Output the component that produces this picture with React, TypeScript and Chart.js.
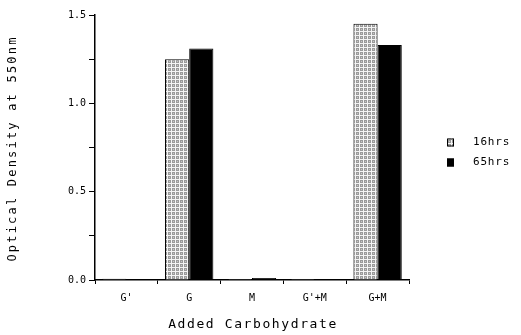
import React, { useEffect, useRef } from 'react';
import { Chart, registerables } from 'chart.js';

Chart.register(...registerables);

const categories = ["G'", "G", "M", "G'+M", "G+M"];
const seriesLabels = ["16hrs", "65hrs"];
const hrs16 = [0.007, 1.25, 0.006, 0.005, 1.45];
const hrs65 = [0.006, 1.31, 0.012, 0.005, 1.33];
const yTickLabels = ["0.0", "0.5", "1.0", "1.5"];
const xTitle = "Added Carbohydrate";
const yTitle = "Optical Density at 550nm";

const MONO = "'DejaVu Sans Mono', monospace";

export default function App() {
  const ref = useRef<HTMLCanvasElement | null>(null);

  useEffect(() => {
    const canvas = ref.current;
    if (!canvas) return;
    const ctx = canvas.getContext('2d')!;

    const pc = document.createElement('canvas');
    pc.width = 4;
    pc.height = 4;
    const p = pc.getContext('2d')!;
    p.fillStyle = '#f4f4f4';
    p.fillRect(0, 0, 4, 4);
    p.fillStyle = '#9a9a9a';
    p.fillRect(0, 0, 3, 3);
    p.fillStyle = '#c8c8c8';
    p.fillRect(1, 1, 1, 1);
    const pattern = ctx.createPattern(pc, 'repeat')!;

    const overlay = {
      id: 'overlay',
      afterDraw(chart: any) {
        const c = chart.ctx as CanvasRenderingContext2D;
        const a = chart.chartArea;
        c.save();
        c.fillStyle = '#000';
        c.textAlign = 'center';
        c.textBaseline = 'middle';
        c.font = `13px ${MONO}`;
        (c as any).letterSpacing = '1.6px';
        c.fillText(xTitle, (a.left + a.right) / 2 + 1, a.bottom + 45);
        c.save();
        c.translate(13, (a.top + a.bottom) / 2 + 1);
        c.rotate(-Math.PI / 2);
        c.font = `12px ${MONO}`;
        (c as any).letterSpacing = '2.2px';
        c.fillText(yTitle, 0, 0);
        c.restore();
        const lx = a.right + 38;
        const ys = [(a.top + a.bottom) / 2 - 5, (a.top + a.bottom) / 2 + 15];
        c.textAlign = 'left';
        c.font = `11px ${MONO}`;
        (c as any).letterSpacing = '0.8px';
        chart.data.datasets.forEach((ds: any, i: number) => {
          const y = ys[i];
          c.fillStyle = ds.backgroundColor;
          c.fillRect(lx, y - 4, 7, 8);
          c.strokeStyle = '#000';
          c.lineWidth = 1;
          c.strokeRect(lx + 0.5, y - 3.5, 6, 7);
          c.fillStyle = '#000';
          c.fillText(ds.label, lx + 26, y);
        });
        c.restore();
      },
    };

    const chart = new Chart(canvas, {
      type: 'bar',
      data: {
        labels: categories,
        datasets: [
          {
            label: seriesLabels[0],
            data: hrs16,
            backgroundColor: pattern as any,
            borderColor: '#000',
            borderWidth: 1,
            categoryPercentage: 0.77,
            barPercentage: 1,
          },
          {
            label: seriesLabels[1],
            data: hrs65,
            backgroundColor: '#000',
            borderColor: '#000',
            borderWidth: 1,
            categoryPercentage: 0.77,
            barPercentage: 1,
          },
        ],
      },
      options: {
        animation: false,
        responsive: false,
        layout: { padding: { left: 0, right: 112, top: 15, bottom: 0 } },
        plugins: { legend: { display: false }, tooltip: { enabled: false } },
        scales: {
          x: {
            grid: { offset: true, drawOnChartArea: false, drawTicks: true, tickLength: 4, color: '#000', lineWidth: 1 },
            border: { display: true, color: '#000', width: 1.5 },
            ticks: { font: { family: MONO, size: 10 }, color: '#000', padding: 8, maxRotation: 0 },
            afterFit: (s: any) => { s.height = 55; },
          },
          y: {
            min: 0,
            max: 1.5,
            ticks: {
              stepSize: 0.25,
              font: { family: MONO, size: 10 },
              color: '#000',
              padding: 3,
              callback: (v: any) => {
                const i = Math.round(Number(v) * 2);
                return Math.abs(Number(v) * 2 - i) < 1e-6 ? yTickLabels[i] : '';
              },
            },
            grid: { drawOnChartArea: false, drawTicks: true, tickLength: 6, color: '#000', lineWidth: 1 },
            border: { display: true, color: '#000', width: 1.5 },
            afterFit: (s: any) => { s.width = 95; },
          },
        },
      },
      plugins: [overlay],
    });

    return () => chart.destroy();
  }, []);

  return (
    <div style={{ position: 'fixed', left: 0, top: 0, width: 521, height: 335, background: '#fff' }}>
      <canvas ref={ref} width={521} height={335} />
    </div>
  );
}
